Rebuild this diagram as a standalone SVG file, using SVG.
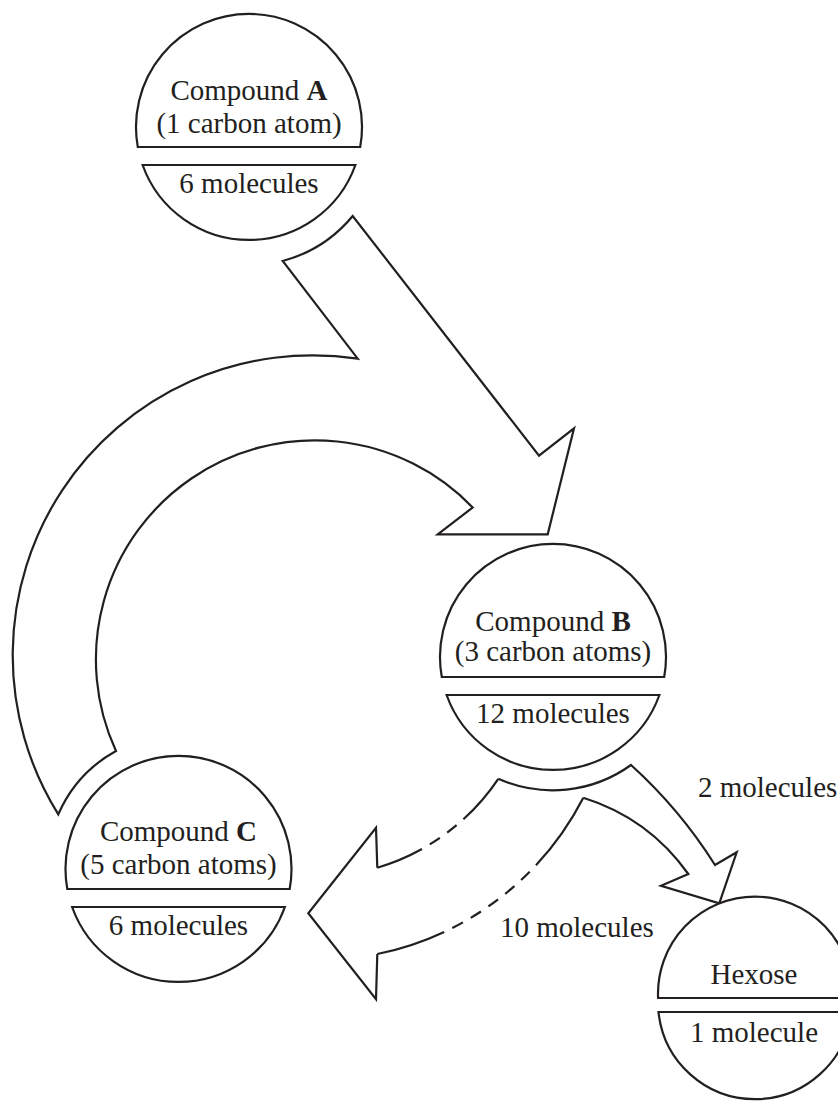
<svg xmlns="http://www.w3.org/2000/svg" width="838" height="1102" viewBox="0 0 838 1102">
<style>
.shape{fill:#fff;stroke:#231f20;stroke-width:2.2;stroke-linejoin:miter}
.line{fill:none;stroke:#231f20;stroke-width:2.2;stroke-linejoin:miter}
.fillonly{fill:#fff;stroke:none}
text{font-family:"Liberation Serif","Times New Roman",serif;font-size:29px;fill:#231f20;text-anchor:middle}
.b{font-weight:bold}
.lbl{text-anchor:start}
</style>
<rect width="838" height="1102" fill="#fff"/>
<g id="connectors">
  <path id="arrow-A-C-to-B" class="shape" d="M 282.7 261 A 137 137 0 0 0 352.7 216 L 539 455.7 L 574 428.3 L 547.7 534.3 L 437.7 534.3 L 472.7 507.5 A 219 219 0 0 0 116 751 A 133 133 0 0 0 58.3 814.3 A 300 300 0 0 1 357.7 358.7 Z"/>
  <g id="arrows-from-B">
    <path class="fillonly" d="M 498.3 778.8 A 134 134 0 0 0 631 765 Q 679.9 809.2 715 865 L 736.7 852.3 L 719.3 903.3 L 661 885.7 L 688.3 874 Q 648.7 818.1 583.3 797.7 A 298 298 0 0 1 377.3 954 L 376 999.3 L 308.3 913.3 L 376 827.7 L 377.3 867.7 A 221 221 0 0 0 498.3 778.8 Z"/>
    <path class="line" d="M 498.3 778.8 A 134 134 0 0 0 631 765 Q 679.9 809.2 715 865 L 736.7 852.3 L 719.3 903.3 L 661 885.7 L 688.3 874 Q 648.7 818.1 583.3 797.7"/>
    <path class="line" d="M 377.3 954 L 376 999.3 L 308.3 913.3 L 376 827.7 L 377.3 867.7"/>
    <path class="line" stroke-dasharray="82.7 9 12 9 12 9 12 9 12 9 12 9 400" d="M 583.3 797.7 A 298 298 0 0 1 377.3 954"/>
    <path class="line" stroke-dasharray="53.6 9 12 9 12 9 400" d="M 498.3 778.8 A 221 221 0 0 1 377.3 867.7"/>
  </g>
  <text class="lbl" x="698" y="797">2 molecules</text>
  <text class="lbl" x="500" y="937">10 molecules</text>
</g>
<g id="node-A">
  <path class="shape" d="M 137.8 147 A 113 113 0 1 1 360.2 147 Z"/>
  <path class="shape" d="M 142.6 165 L 355.4 165 A 113 113 0 0 1 142.6 165 Z"/>
  <text x="249" y="100">Compound <tspan class="b">A</tspan></text>
  <text x="249" y="133">(1 carbon atom)</text>
  <text x="249" y="193">6 molecules</text>
</g>
<g id="node-B">
  <path class="shape" d="M 441.8 677 A 113 113 0 1 1 664.2 677 Z"/>
  <path class="shape" d="M 446.6 695 L 659.4 695 A 113 113 0 0 1 446.6 695 Z"/>
  <text x="553" y="631">Compound <tspan class="b">B</tspan></text>
  <text x="553" y="661">(3 carbon atoms)</text>
  <text x="553" y="723">12 molecules</text>
</g>
<g id="node-C">
  <path class="shape" d="M 67.3 889 A 113 113 0 1 1 289.7 889 Z"/>
  <path class="shape" d="M 72.1 907 L 284.9 907 A 113 113 0 0 1 72.1 907 Z"/>
  <text x="178.5" y="841">Compound <tspan class="b">C</tspan></text>
  <text x="178.5" y="874">(5 carbon atoms)</text>
  <text x="178.5" y="935">6 molecules</text>
</g>
<g id="node-Hexose">
  <path class="shape" d="M 658.1 998 A 97 97 0 1 1 851.9 998 Z"/>
  <path class="shape" d="M 658.5 1012 L 851.5 1012 A 97 97 0 0 1 658.5 1012 Z"/>
  <text x="754" y="984">Hexose</text>
  <text x="754" y="1042">1 molecule</text>
</g>
</svg>
